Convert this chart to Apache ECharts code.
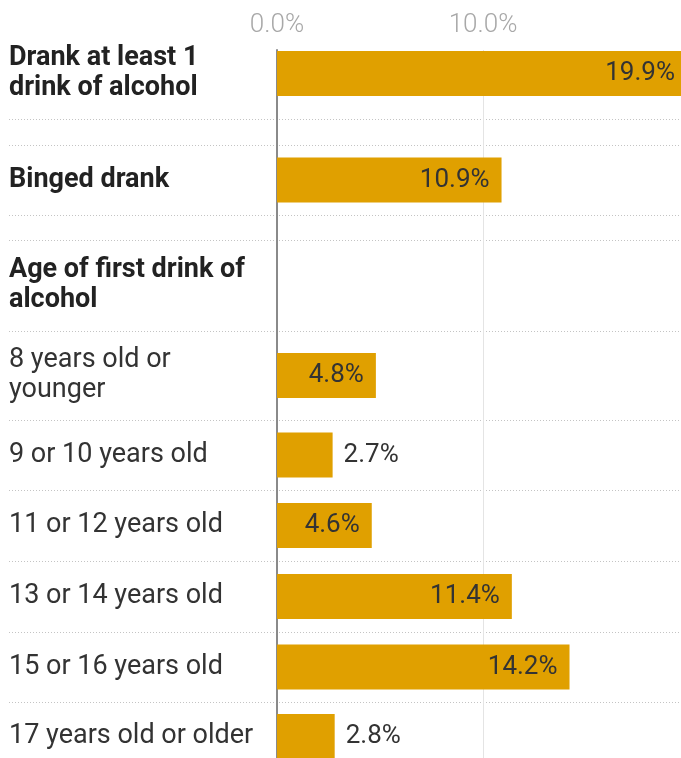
<!DOCTYPE html>
<html>
<head>
<meta charset="utf-8">
<script src="https://cdn.jsdelivr.net/npm/echarts@6/dist/echarts.min.js"></script>
<style>
  html, body { margin: 0; padding: 0; background: #fff; }
  #chart { width: 681px; height: 758px; }
</style>
</head>
<body>
<div id="chart"></div>
<script>
// Survey results: alcohol use, share of respondents (%)
const summaryLabels = ['Drank at least 1\ndrink of alcohol', 'Binged drank'];
const summaryValues = [19.9, 10.9];
const ageHeading = 'Age of first drink of\nalcohol';
const ageLabels = [
  '8 years old or\nyounger',
  '9 or 10 years old',
  '11 or 12 years old',
  '13 or 14 years old',
  '15 or 16 years old',
  '17 years old or older'
];
const ageValues = [4.8, 2.7, 4.6, 11.4, 14.2, 2.8];
const tickValues = [0, 10];

// ---- layout ----
const PLOT_LEFT = 277;
const X_MAX = 20;
const PLOT_WIDTH = 412;          // 0..20 % ; the longest bar runs past the right edge
const LABEL_X = 9;
const BAR_H = 45;
const FONT = 'Roboto, "Noto Sans", sans-serif';
const BAR_COLOR = '#E0A000';

// vertical bands (top, bottom) for each row, between the dotted rules
const bands = [
  [28, 119], [145, 215], [240, 331], [331, 420], [420, 490],
  [490, 561], [561, 632], [632, 702], [702, 771]
];

// rows in drawing order
const rows = [];
summaryLabels.forEach((l, i) => rows.push({ label: l, value: summaryValues[i], bold: true }));
rows.push({ label: ageHeading, value: null, bold: true });
ageLabels.forEach((l, i) => rows.push({ label: l, value: ageValues[i], bold: false }));

const grids = [], xAxes = [], yAxes = [], series = [];

// background grid: top tick labels, zero line, 10 % gridline
grids.push({ left: PLOT_LEFT, width: PLOT_WIDTH, top: 50, height: 758 - 50, outerBoundsMode: 'none' });
xAxes.push({
  gridIndex: 0, type: 'value', position: 'top', min: 0, max: X_MAX, interval: 10,
  axisLine: { show: false }, axisTick: { show: false },
  axisLabel: {
    margin: 12, color: '#a8a8a8', fontFamily: FONT, fontSize: 26, fontWeight: 300,
    formatter: v => tickValues.includes(v) ? v.toFixed(1) + '%' : ''
  },
  splitLine: { show: true, lineStyle: { color: '#e4e4e4', width: 1 } }
});
yAxes.push({
  gridIndex: 0, type: 'value', min: 0, max: 1,
  axisLine: { show: true, lineStyle: { color: '#8a8a8a', width: 2 } },
  axisTick: { show: false }, axisLabel: { show: false }, splitLine: { show: false }
});

rows.forEach((r, i) => {
  const g = i + 1;
  const [top, bottom] = bands[i];
  grids.push({ left: PLOT_LEFT, width: PLOT_WIDTH, top: top, height: bottom - top, outerBoundsMode: 'none' });
  xAxes.push({ gridIndex: g, type: 'value', min: 0, max: X_MAX, show: false });
  yAxes.push({
    gridIndex: g, type: 'category', data: [r.label],
    axisLine: { show: false }, axisTick: { show: false }, splitLine: { show: false },
    axisLabel: {
      show: true, align: 'left', margin: PLOT_LEFT - LABEL_X,
      color: r.bold ? '#222' : '#333', fontFamily: FONT,
      fontWeight: r.bold ? 'bold' : 'normal', fontSize: 27, lineHeight: 30,
      padding: [4, 0, 0, 0]
    }
  });
  const inside = r.value != null && r.value >= 4;
  series.push({
    type: 'bar', xAxisIndex: g, yAxisIndex: g,
    data: [r.value], barWidth: BAR_H,
    itemStyle: { color: BAR_COLOR },
    silent: true, animation: false,
    label: {
      show: r.value != null,
      position: inside ? 'insideRight' : 'right',
      distance: inside ? 12 : 11,
      color: '#333', fontFamily: FONT, fontSize: 26,
      padding: [2, 0, 0, 0],
      formatter: p => p.value.toFixed(1) + '%'
    }
  });
});

// dotted row rules
const ruleYs = [];
bands.forEach(([t, b]) => { ruleYs.push(t, b); });
const rules = [...new Set(ruleYs)].filter(y => y > 40 && y < 758);
const graphic = rules.map(y => ({
  type: 'line', z: -1, silent: true,
  shape: { x1: LABEL_X, y1: y + 0.5, x2: 681, y2: y + 0.5 },
  style: { stroke: '#c4c4c4', lineWidth: 1, lineDash: [1, 2] }
}));

const chart = echarts.init(document.getElementById('chart'), null, { renderer: 'canvas' });
chart.setOption({
  animation: false,
  backgroundColor: '#fff',
  grid: grids, xAxis: xAxes, yAxis: yAxes, series: series,
  graphic: graphic
});
</script>
</body>
</html>
